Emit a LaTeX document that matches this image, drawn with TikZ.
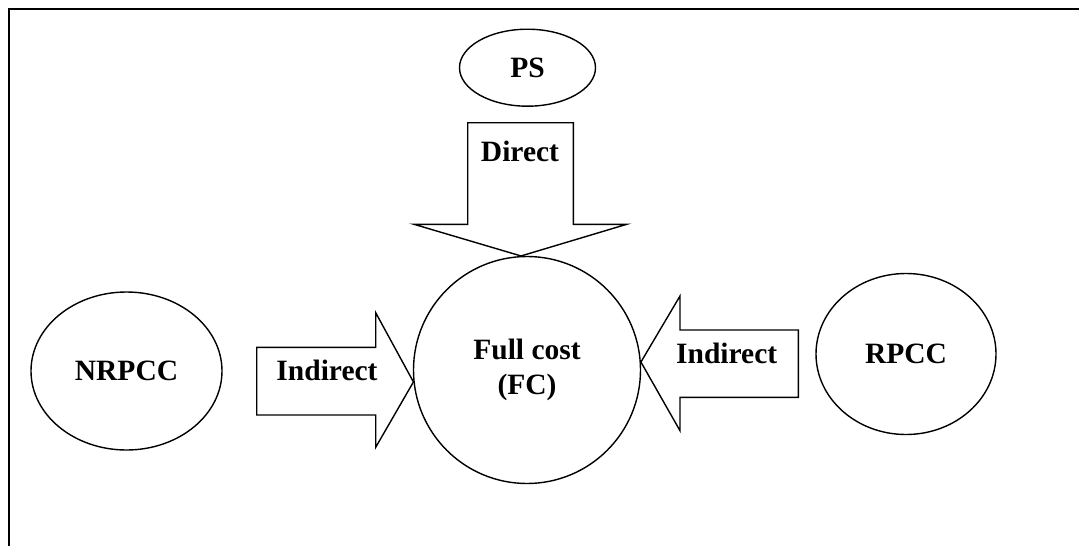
\documentclass[tikz,border=0pt]{standalone}
\usepackage{fontspec}
\setmainfont{Liberation Serif}
\usetikzlibrary{shapes.geometric}

\begin{document}
\begin{tikzpicture}[x=1pt,y=-1pt,
  every node/.style={font=\fontsize{29.5}{35}\selectfont\bfseries},
  bubble/.style={draw,ellipse,line width=1.4pt,inner sep=0pt},
  blockarrow/.style={draw,line width=1.4pt,line join=miter}]
  \useasboundingbox (0,0) rectangle (1079,546);

  % frame
  \draw[line width=2pt] (9,546) -- (9,8.5) -- (1079,8.5);

  % cost objects
  \node[bubble,minimum width=136pt,minimum height=77pt] (ps) at (527.5,67.7) {PS};
  \node[bubble,circle,minimum size=227pt,align=center] (fc) at (527,370) {Full cost\\(FC)};
  \node[bubble,minimum width=191pt,minimum height=158pt] (nrpcc) at (126.5,371) {NRPCC};
  \node[bubble,minimum width=180pt,minimum height=161pt] (rpcc) at (906,354) {RPCC};

  % direct arrow
  \draw[blockarrow] (fc.93) -- (414,224.3) -- (467.7,224.3) -- (467.7,122.7)
    -- (573.3,122.7) -- (573.3,224.3) -- (626.7,224.3) -- cycle;
  \node (direct) at (520,151.7) {Direct};

  % indirect arrows
  \draw[blockarrow] (fc.186) -- (375.7,312.7) -- (375.7,347.3) -- (256.7,347.3)
    -- (256.7,415) -- (375.7,415) -- (375.7,447.3) -- cycle;
  \node (indl) at (327,370) {Indirect};
  \draw[blockarrow] (fc.4) -- (680,296) -- (680,330) -- (798.3,330)
    -- (798.3,397.3) -- (680,397.3) -- (680,430.7) -- cycle;
  \node (indr) at (726.7,353.3) {Indirect};
\end{tikzpicture}
\end{document}
